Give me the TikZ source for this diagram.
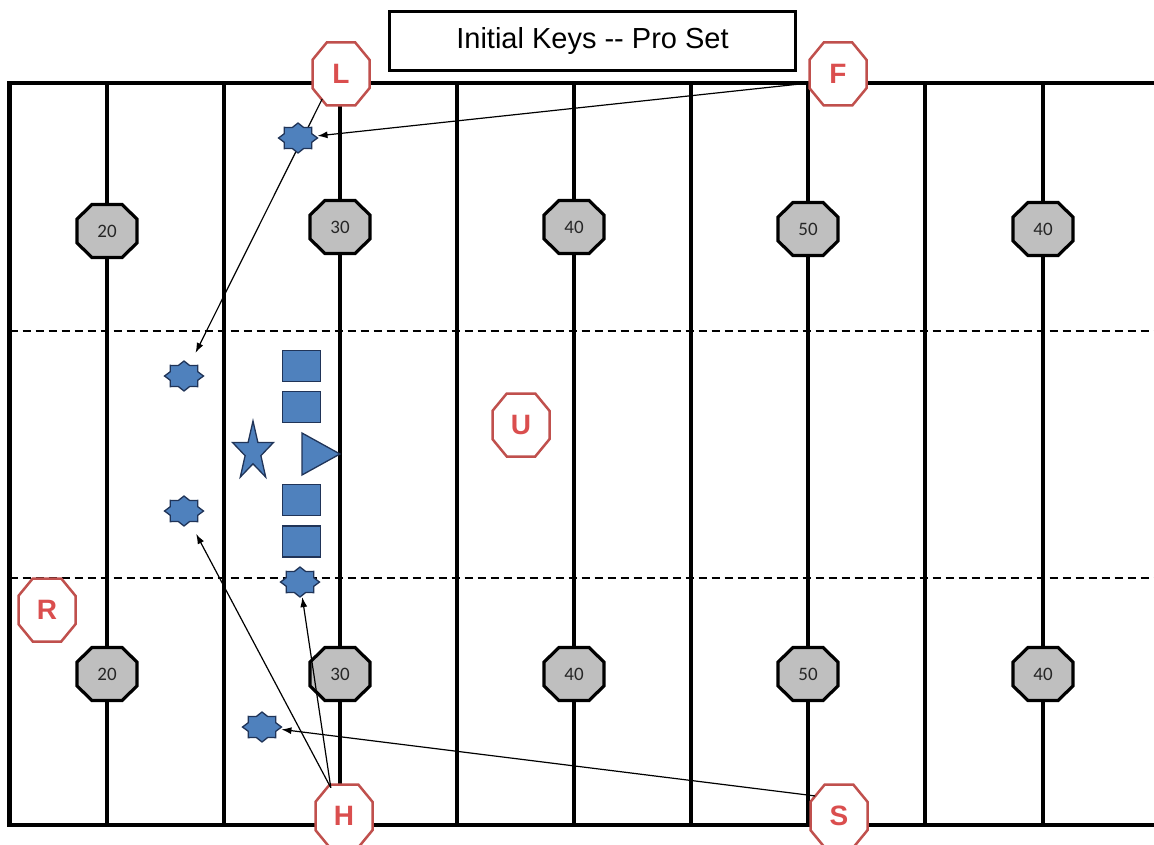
\documentclass[tikz,border=0pt]{standalone}
\usepackage{fontspec}
\setmainfont{Liberation Sans}
\newfontfamily\numfont{Carlito}
\usetikzlibrary{arrows.meta,shapes.geometric}

\definecolor{offred}{RGB}{192,80,77}
\definecolor{letred}{RGB}{218,78,78}
\definecolor{markgray}{RGB}{191,191,191}
\definecolor{plblue}{RGB}{79,129,189}
\definecolor{pledge}{RGB}{32,52,88}

% octagon: [style]{centre}{half width}{half height}
\newcommand\octagon[4][]{%
  \draw[#1,shift={(#2)}] (-0.5*#3,-#4) -- (0.5*#3,-#4) -- (#3,-0.45*#4) -- (#3,0.45*#4)
    -- (0.5*#3,#4) -- (-0.5*#3,#4) -- (-#3,0.45*#4) -- (-#3,-0.45*#4) -- cycle;}
% eight-pointed player marker around a centre
\newcommand\octstar[1]{%
  \draw[player,shift={(#1)}] (0:19.5 and 15)
    \foreach \a in {0,45,...,270}{ -- (\a+22.5:14.8 and 11.4) -- (\a+45:19.5 and 15)}
    -- (337.5:14.8 and 11.4) -- cycle;}

\begin{document}
\begin{tikzpicture}[x=1pt,y=-1pt,
  field/.style={line width=4.5pt,black},
  hash/.style={line width=2pt,black,dash pattern=on 8pt off 5pt},
  yardmark/.style={draw=black,line width=3.2pt,fill=markgray,line join=miter},
  numtext/.style={font=\numfont\fontsize{19}{19}\selectfont,text=black!85},
  offshape/.style={draw=offred,line width=2.5pt,fill=white},
  offtext/.style={circle,inner sep=0pt,minimum size=62pt,text=letred,
    font=\bfseries\fontsize{28}{28}\selectfont},
  player/.style={fill=plblue,draw=pledge,line width=1.3pt,line join=miter},
  spot/.style={ellipse,inner sep=0pt,minimum width=39pt,minimum height=30pt},
  lineman/.style={player,rectangle,inner sep=0pt,minimum width=38pt,minimum height=31pt},
  key/.style={line width=1.2pt,black,-{Latex[length=10pt,width=7pt]}}]

\useasboundingbox (0,0) rectangle (1154,845);

% field outline, open on the right
\draw[field,line join=miter] (1154,83) -- (9.5,83) -- (9.5,825) -- (1154,825);
% yard lines
\foreach \x in {107,224,340,457,574,691,808,925,1043}
  \draw[field] (\x,83) -- (\x,825);
% hash lines
\draw[hash] (9.5,331) -- (1154,331);
\draw[hash] (9.5,578) -- (1154,578);

% yard numbers
\foreach \x/\y/\n [count=\i] in {107/231/20,340/227/30,574/227/40,808/229/50,1043/229/40,
                                 107/674/20,340/674/30,574/674/40,808/674/50,1043/674/40}{
  \coordinate (m\i) at (\x,\y);
  \octagon[yardmark]{m\i}{30}{26.5}
  \node[numtext] (n\i) at (m\i) {\n};
}

% title
\node[draw=black,line width=3.5pt,minimum width=406pt,minimum height=59pt,inner sep=0pt,
      font=\fontsize{29}{29}\selectfont] (title) at (592.5,41) {Initial Keys {-}{-} Pro Set};

% officials
\foreach \nm/\x/\y in {L/341/74,F/838/74,R/47/610,U/521/425,H/344/816,S/839/816}{
  \coordinate (c\nm) at (\x,\y);
  \octagon[offshape]{c\nm}{28.5}{31.5}
  \node[offtext] (\nm) at (c\nm) {\nm};
}

% offense
\node[lineman] (g1) at (301.5,366) {};
\node[lineman] (g2) at (301.5,407) {};
\node[lineman] (g3) at (301.5,500) {};
\node[lineman] (g4) at (301.5,541.5) {};
\draw[player] (302,433) -- (340,454) -- (302,475) -- cycle;
\coordinate (qb) at (253,452);
\draw[player,shift={(qb)}] (-90:21.6 and 31)
  \foreach \a in {-90,-18,54,126}{ -- (\a+36:8.3 and 11.8) -- (\a+72:21.6 and 31)}
  -- (234:8.3 and 11.8) -- cycle;

% keyed receivers and backs
\foreach \nm/\x/\y in {p1/298/138,p2/184/376,p3/184/511,p4/300/582,p5/262/727}{
  \node[spot] (\nm) at (\x,\y) {};
}

% keys
\draw[key] (F.197) -- (p1);
\draw[key,shorten >=10pt] (L.233) -- (p2);
\draw[key,shorten >=10pt] (H.115) -- (p3);
\draw[key] (H.115) -- (p4);
\draw[key] (S.140) -- (p5);

\foreach \nm in {p1,p2,p3,p4,p5}{ \octstar{\nm.center} }

\end{tikzpicture}
\end{document}
